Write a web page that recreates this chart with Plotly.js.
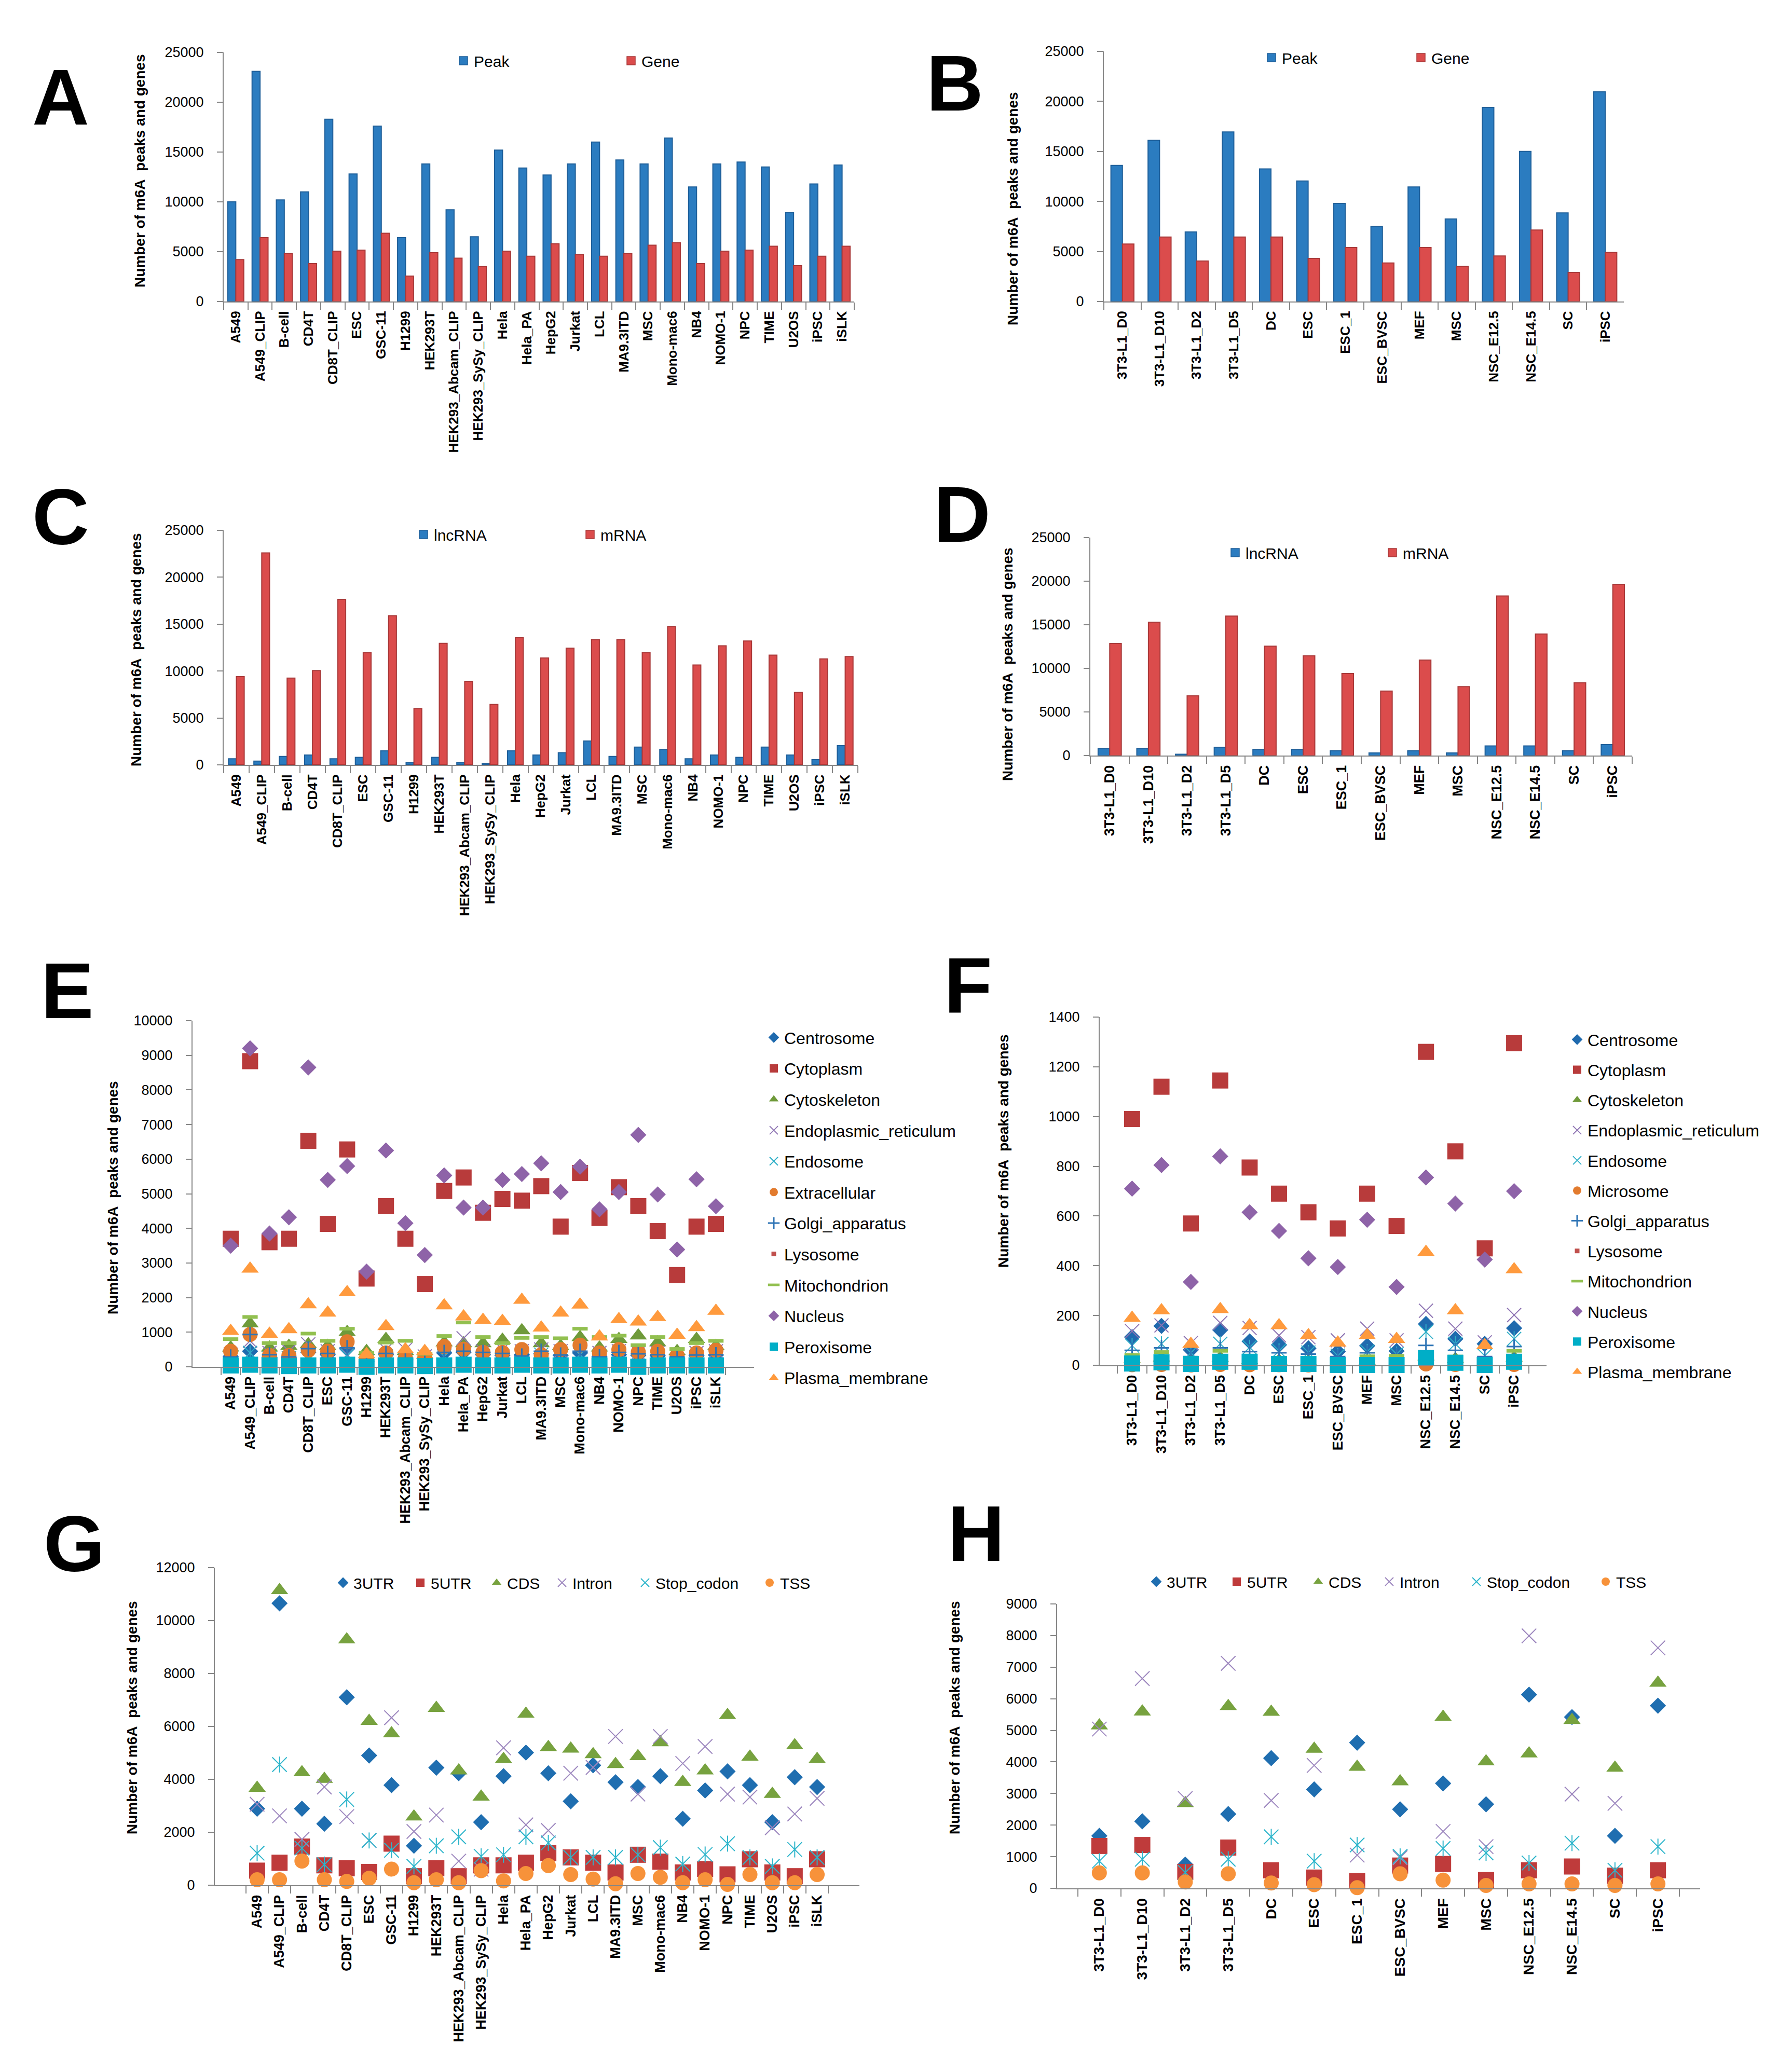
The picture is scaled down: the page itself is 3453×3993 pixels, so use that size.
<!DOCTYPE html>
<html><head><meta charset="utf-8">
<script src="https://cdn.plot.ly/plotly-3.0.1.min.js"></script>
<style>html,body{margin:0;padding:0;background:#fff}</style>
</head><body><div id="chart" style="width:3453px;height:3993px"></div>
<script>
// ---------------- DATA ----------------
const catsHuman = ['A549','A549_CLIP','B-cell','CD4T','CD8T_CLIP','ESC','GSC-11','H1299','HEK293T','HEK293_Abcam_CLIP','HEK293_SySy_CLIP','Hela','Hela_PA','HepG2','Jurkat','LCL','MA9.3ITD','MSC','Mono-mac6','NB4','NOMO-1','NPC','TIME','U2OS','iPSC','iSLK'];
const catsHumanC = ['A549','A549_CLIP','B-cell','CD4T','CD8T_CLIP','ESC','GSC-11','H1299','HEK293T','HEK293_Abcam_CLIP','HEK293_SySy_CLIP','Hela','HepG2','Jurkat','LCL','MA9.3ITD','MSC','Mono-mac6','NB4','NOMO-1','NPC','TIME','U2OS','iPSC','iSLK'];
const catsMouse = ['3T3-L1_D0','3T3-L1_D10','3T3-L1_D2','3T3-L1_D5','DC','ESC','ESC_1','ESC_BVSC','MEF','MSC','NSC_E12.5','NSC_E14.5','SC','iPSC'];

// Panel A
const aPeak = [10000,23100,10200,11000,18300,12800,17600,6400,13800,9200,6500,15200,13400,12700,13800,16000,14200,13800,16400,11500,13800,14000,13500,8900,11800,13700];
const aGene = [4200,6400,4800,3800,5050,5150,6850,2550,4900,4350,3500,5050,4550,5800,4700,4550,4800,5650,5900,3800,5050,5150,5550,3600,4550,5550];
// Panel B
const bPeak = [13600,16100,6950,16950,13250,12050,9800,7500,11450,8250,19400,15000,8850,20950];
const bGene = [5750,6450,4050,6450,6450,4300,5400,3850,5400,3500,4550,7150,2900,4900];
// Panel C
const cLnc = [650,400,900,1050,650,800,1500,250,800,250,150,1500,1050,1300,2550,900,1900,1650,650,1050,800,1900,1050,550,2050];
const cMrna = [9400,22600,9250,10050,17650,11950,15900,6000,12950,8900,6450,13550,11400,12450,13350,13350,11950,14750,10650,12700,13200,11700,7750,11300,11550];
// Panel D
const dLnc = [800,800,150,950,700,700,550,300,550,300,1100,1100,550,1250];
const dMrna = [12850,15300,6850,16000,12550,11450,9400,7400,10950,7900,18300,13950,8350,19650];

// Panel E (human, subcellular)
const eCentrosome = [300,450,280,260,420,350,520,150,350,200,150,400,420,350,330,350,380,330,400,300,350,330,320,250,320,340];
const eCytoplasm = [3700,8830,3600,3700,6530,4130,6280,2550,4640,3700,2390,5080,5470,4450,4850,4800,5220,4050,5600,4300,5190,4640,3920,2650,4050,4130];
const eCytoskeleton = [550,1250,550,600,650,600,1000,450,800,450,350,700,675,675,775,1050,675,600,850,550,800,900,700,450,800,600];
const eER = [350,750,400,450,650,450,350,200,500,500,300,300,825,450,500,450,500,450,350,400,450,400,400,300,400,450];
const eEndosome = [250,400,250,250,350,300,325,150,300,200,150,300,350,300,300,300,350,320,350,250,300,280,280,200,280,300];
const eExtracellular = [450,935,325,325,475,450,725,250,400,250,250,585,510,415,415,500,350,500,625,400,500,425,450,325,400,475];
const eGolgi = [285,935,350,285,525,385,550,150,385,250,200,415,450,415,385,310,450,340,450,290,415,375,350,290,340,350];
const eLysosome = [60,90,50,50,70,60,80,30,60,40,30,60,70,60,60,70,60,60,70,50,60,60,50,40,50,60];
const eMito = [800,1440,685,685,960,750,1100,410,700,750,375,890,1280,860,685,835,860,825,1100,860,900,625,860,515,685,750];
const eNucleus = [3500,9200,3850,4320,8650,5400,5800,2750,6250,4150,3230,5530,4600,4600,5400,5570,5880,5050,5780,4550,5050,6700,4980,3390,5420,4640];
const ePeroxisome = [40,60,40,20,40,40,60,0,40,40,20,40,60,40,40,60,40,40,60,40,60,0,40,40,40,40];
const ePlasma = [1030,2830,950,1080,1800,1560,2150,360,1170,500,450,1770,1450,1350,1320,1930,1130,1560,1790,870,1370,1300,1430,920,1140,1610];

// Panel F (mouse, subcellular)
const fCentrosome = [113,158,62,142,96,82,68,55,78,57,166,106,86,149];
const fCytoplasm = [990,1120,570,1145,795,690,615,550,690,560,1260,860,470,1295];
const fCytoskeleton = [25,30,15,30,20,18,15,12,18,12,35,25,12,30];
const fER = [137,160,89,170,150,120,113,100,147,100,219,147,92,202];
const fEndosome = [79,86,50,86,72,58,51,38,55,45,134,86,38,106];
const fMicrosome = [2,3,1,3,2,2,1,1,2,1,5,3,1,3];
const fGolgi = [60,70,35,70,55,50,45,35,50,40,80,60,35,75];
const fLysosome = [8,10,5,10,8,6,6,5,6,5,12,8,5,10];
const fMito = [41,53,30,58,38,30,25,25,36,38,50,35,25,58];
const fNucleus = [710,805,335,840,615,540,430,395,585,315,755,650,425,700];
const fPeroxisome = [7,12,5,14,14,5,5,1,1,1,29,10,1,14];
const fPlasma = [190,220,85,225,160,160,120,90,120,105,455,220,80,385];

// Panel G (human, gene region)
const g3UTR = [2890,10650,2890,2320,7100,4900,3780,1490,4440,4230,2380,4120,5010,4230,3170,4530,3890,3710,4120,2510,3580,4300,3780,2380,4080,3710];
const g5UTR = [550,850,1460,750,640,500,1570,340,640,340,750,750,850,1210,1050,850,480,1150,890,480,610,410,980,480,340,980];
const gCDS = [3670,11140,4260,4010,9280,6200,5730,2590,6690,4330,3340,4760,6470,5210,5150,4940,4570,4870,5390,3890,4330,6420,4850,3440,5280,4760];
const gIntron = [3060,2620,1730,3710,2590,1690,6330,2030,2650,910,600,5190,2280,2070,4230,4450,5620,3440,5620,4600,5240,3440,3330,2170,2690,3280];
const gStop = [1210,4560,1400,780,3240,1690,1320,710,1490,1830,1090,1150,1830,1600,1050,1050,1050,1150,1420,800,1160,1570,1050,710,1350,1050];
const gTSS = [205,205,910,205,140,260,610,95,205,95,550,164,440,740,400,230,55,440,300,95,205,30,400,95,95,400];

// Panel H (mouse, gene region)
const h3UTR = [1660,2120,750,2350,4120,3130,4610,2500,3320,2660,6130,5420,1660,5780];
const h5UTR = [1340,1370,520,1290,570,340,230,720,770,260,570,690,400,570];
const hCDS = [5150,5590,2690,5760,5580,4410,3840,3380,5420,4010,4260,5320,3810,6500];
const hIntron = [5040,6640,2840,7120,2780,3890,1050,970,1800,1320,7990,2980,2690,7610];
const hStop = [860,920,500,920,1630,860,1370,1010,1260,1120,800,1430,570,1320];
const hTSS = [490,490,200,460,170,115,20,460,260,90,140,140,90,140];

const yTitle = 'Number of m6A\u00a0 peaks and genes';

// ---------------- LAYOUT HELPERS ----------------
const W = 3453, H = 3993;
const FONT = 'Liberation Sans, Arial, Helvetica, sans-serif';
const AXC = '#868686';
const traces = [];
const layout = {
  width: W, height: H, margin: {l:0, r:0, t:0, b:0},
  paper_bgcolor: '#ffffff', plot_bgcolor: '#ffffff',
  font: {family: FONT, color: '#000'},
  showlegend: true, annotations: []
};
let legN = 0;
function newLegend(cfg){ legN++; const id = legN === 1 ? 'legend' : 'legend' + legN; layout[id] = cfg; return id; }
const SYM_OFF = 20, FIRST_OFF = 27;
function itemLegend(cx, cy, fs){
  return newLegend({x:(cx - SYM_OFF)/W, y:1 - cy/H, xanchor:'left', yanchor:'middle', orientation:'v',
    bgcolor:'rgba(0,0,0,0)', borderwidth:0, font:{family:FONT, size:fs, color:'#000'}, itemsizing:'trace'});
}
function colLegend(cx, cy, fs, gap){
  return newLegend({x:(cx - SYM_OFF)/W, y:1 - (cy - FIRST_OFF)/H, xanchor:'left', yanchor:'top', orientation:'v',
    bgcolor:'rgba(0,0,0,0)', borderwidth:0, font:{family:FONT, size:fs, color:'#000'}, itemsizing:'trace',
    traceorder:'grouped', tracegroupgap:gap});
}
function sfx(k){ return k === 1 ? '' : String(k); }
function addPanel(k, box, ymax, dtick, xfs){
  const [l, t, r, b] = box;
  layout['xaxis' + sfx(k)] = {domain:[l/W, r/W], anchor:'y' + sfx(k), type:'category',
    showline:true, linecolor:AXC, linewidth:2, ticks:'outside', tickson:'boundaries', ticklen:14, tickwidth:2, tickcolor:AXC,
    tickmode:'linear', tick0:0, dtick:1, tickangle:-90, ticklabelstandoff:6,
    tickfont:{family:FONT, size:xfs, color:'#000', weight:'bold'}, showgrid:false, zeroline:false, fixedrange:true};
  layout['yaxis' + sfx(k)] = {domain:[1 - b/H, 1 - t/H], anchor:'x' + sfx(k), range:[0, ymax], tick0:0, dtick:dtick,
    tickformat:'d', exponentformat:'none',
    showline:true, linecolor:AXC, linewidth:2, ticks:'outside', ticklen:11, tickwidth:2, tickcolor:AXC, ticklabelstandoff:20,
    tickfont:{family:FONT, size:27, color:'#000'}, showgrid:false, zeroline:false, fixedrange:true};
}
function letter(txt, lx, cy){
  layout.annotations.push({text:txt, xref:'paper', yref:'paper', x:lx/W, y:1 - cy/H, xanchor:'left', yanchor:'middle',
    showarrow:false, font:{family:FONT, size:152, color:'#000', weight:'bold'}});
}
function ytitle(cx, cy){
  layout.annotations.push({text:yTitle, xref:'paper', yref:'paper', x:cx/W, y:1 - cy/H, xanchor:'center', yanchor:'middle',
    textangle:-90, showarrow:false, font:{family:FONT, size:28, color:'#000', weight:'bold'}});
}
function bar(k, cats, vals, color, edge, width, offset){
  traces.push({type:'bar', x:cats, y:vals, xaxis:'x' + sfx(k), yaxis:'y' + sfx(k), width:width, offset:offset,
    marker:{color:color, line:{color:edge, width:2}}, showlegend:false, hoverinfo:'x+y'});
}
function legSquare(k, name, color, edge, legId){
  traces.push({type:'scatter', mode:'markers', x:[null], y:[null], xaxis:'x' + sfx(k), yaxis:'y' + sfx(k), name:name,
    marker:{symbol:'square', size:16, color:color, line:{color:edge, width:1.5}}, legend:legId, hoverinfo:'skip'});
}
function pts(k, cats, vals, name, sym, size, color, lw, legId, group, showleg){
  const open = /open/.test(sym);
  const m = {symbol:sym, size:size, color:color};
  m.line = open ? {color:color, width:lw} : {color:color, width:0};
  traces.push({type:'scatter', mode:'markers', x:cats, y:vals, xaxis:'x' + sfx(k), yaxis:'y' + sfx(k), name:name,
    marker:m, cliponaxis:false, legend:legId, legendgroup:group, showlegend:showleg !== false, hoverinfo:'name+x+y'});
}

const BLUE = '#2B7CC0', BLUE_E = '#1F5F99', RED = '#DB4C4C', RED_E = '#A83838';

// ---------------- PANELS A-D (bars) ----------------
addPanel(1, [431, 101, 1646, 581], 25000, 5000, 26);
bar(1, catsHuman, aPeak, BLUE, BLUE_E, 0.33, -0.33);
bar(1, catsHuman, aGene, RED, RED_E, 0.33, 0);
legSquare(1, 'Peak', BLUE, BLUE_E, itemLegend(893, 117, 30));
legSquare(1, 'Gene', RED, RED_E, itemLegend(1216, 117, 30));
letter('A', 60, 187); ytitle(269, 329);

addPanel(2, [2127, 99, 3129, 581], 25000, 5000, 26);
bar(2, catsMouse, bPeak, BLUE, BLUE_E, 0.31, -0.31);
bar(2, catsMouse, bGene, RED, RED_E, 0.31, 0);
legSquare(2, 'Peak', BLUE, BLUE_E, itemLegend(2450, 111, 30));
legSquare(2, 'Gene', RED, RED_E, itemLegend(2738, 111, 30));
letter('B', 1783, 160); ytitle(1952, 402);

addPanel(3, [431, 1022, 1653, 1474], 25000, 5000, 26);
bar(3, catsHumanC, cLnc, BLUE, BLUE_E, 0.31, -0.31);
bar(3, catsHumanC, cMrna, RED, RED_E, 0.31, 0);
legSquare(3, 'lncRNA', BLUE, BLUE_E, itemLegend(816, 1030, 30));
legSquare(3, 'mRNA', RED, RED_E, itemLegend(1137, 1030, 30));
letter('C', 60, 996); ytitle(263, 1252);

addPanel(4, [2101, 1036, 3145, 1456], 25000, 5000, 27);
bar(4, catsMouse, dLnc, BLUE, BLUE_E, 0.30, -0.30);
bar(4, catsMouse, dMrna, RED, RED_E, 0.30, 0);
legSquare(4, 'lncRNA', BLUE, BLUE_E, itemLegend(2380, 1065, 30));
legSquare(4, 'mRNA', RED, RED_E, itemLegend(2683, 1065, 30));
letter('D', 1797, 991); ytitle(1941, 1280);

// ---------------- PANELS E-F (subcellular scatter) ----------------
const C_CENT = '#1F6AAE', C_CYTO = '#B83B3B', C_SKEL = '#6F9A3A', C_ER = '#8E74B3', C_ENDO = '#2FAFC7',
      C_EXTRA = '#E27B2E', C_GOLGI = '#2E74B5', C_LYSO = '#C0504D', C_MITO = '#92C050', C_NUC = '#8E63A8',
      C_PEROX = '#00AEC7', C_PLASMA = '#FF9A3D';

function subcell(k, cats, d, names, legId){
  pts(k, cats, d[0], names[0], 'diamond', 24, C_CENT, 0, legId, k + names[0]);
  pts(k, cats, d[1], names[1], 'square', 31, C_CYTO, 0, legId, k + names[1]);
  pts(k, cats, d[2], names[2], 'triangle-up', 29, C_SKEL, 0, legId, k + names[2]);
  pts(k, cats, d[3], names[3], 'x-thin-open', 27, C_ER, 2, legId, k + names[3]);
  pts(k, cats, d[4], names[4], 'x-thin-open', 27, C_ENDO, 2, legId, k + names[4]);
  pts(k, cats, d[4], names[4], 'line-ns-open', 21, C_ENDO, 2, legId, k + names[4], false);
  pts(k, cats, d[5], names[5], 'circle', 29, C_EXTRA, 0, legId, k + names[5]);
  pts(k, cats, d[6], names[6], 'cross-thin-open', 21, C_GOLGI, 3, legId, k + names[6]);
  pts(k, cats, d[7], names[7], 'square', 9, C_LYSO, 0, legId, k + names[7]);
  pts(k, cats, d[8], names[8], 'line-ew-open', 21, C_MITO, 7, legId, k + names[8]);
  pts(k, cats, d[9], names[9], 'diamond', 24, C_NUC, 0, legId, k + names[9]);
  pts(k, cats, d[10], names[10], 'square', 31, C_PEROX, 0, legId, k + names[10]);
  pts(k, cats, d[11], names[11], 'triangle-up', 29, C_PLASMA, 0, legId, k + names[11]);
}

addPanel(5, [371, 1967, 1453, 2634], 10000, 1000, 27);
subcell(5, catsHuman,
  [eCentrosome, eCytoplasm, eCytoskeleton, eER, eEndosome, eExtracellular, eGolgi, eLysosome, eMito, eNucleus, ePeroxisome, ePlasma],
  ['Centrosome','Cytoplasm','Cytoskeleton','Endoplasmic_reticulum','Endosome','Extracellular','Golgi_apparatus','Lysosome','Mitochondrion','Nucleus','Peroxisome','Plasma_membrane'],
  colLegend(1491, 1999, 32, 15));
letter('E', 77, 1909); ytitle(217, 2308);

addPanel(6, [2119, 1960, 2980, 2631], 1400, 200, 27);
subcell(6, catsMouse,
  [fCentrosome, fCytoplasm, fCytoskeleton, fER, fEndosome, fMicrosome, fGolgi, fLysosome, fMito, fNucleus, fPeroxisome, fPlasma],
  ['Centrosome','Cytoplasm','Cytoskeleton','Endoplasmic_reticulum','Endosome','Microsome','Golgi_apparatus','Lysosome','Mitochondrion','Nucleus','Peroxisome','Plasma_membrane'],
  colLegend(3039, 2003, 32, 13.6));
letter('F', 1817, 1898); ytitle(1933, 2218);

// ---------------- PANELS G-H (gene region scatter) ----------------
const C_3 = '#1F6EB0', C_5 = '#BF3B3B', C_CDS = '#77A23F', C_INT = '#9C86BE', C_STOP = '#2CB5CB', C_TSS = '#F7923A';
function region(k, cats, d, lx, ly){
  const names = ['3UTR','5UTR','CDS','Intron','Stop_codon','TSS'];
  pts(k, cats, d[0], names[0], 'diamond', 24, C_3, 0, itemLegend(lx[0], ly, 30), k + 'a');
  pts(k, cats, d[1], names[1], 'square', 31, C_5, 0, itemLegend(lx[1], ly, 30), k + 'b');
  pts(k, cats, d[2], names[2], 'triangle-up', 29, C_CDS, 0, itemLegend(lx[2], ly, 30), k + 'c');
  pts(k, cats, d[3], names[3], 'x-thin-open', 28, C_INT, 2, itemLegend(lx[3], ly, 30), k + 'd');
  const sl = itemLegend(lx[4], ly, 30);
  pts(k, cats, d[4], names[4], 'x-thin-open', 28, C_STOP, 2, sl, k + 'e');
  pts(k, cats, d[4], names[4], 'line-ns-open', 22, C_STOP, 2, sl, k + 'e', false);
  pts(k, cats, d[5], names[5], 'circle', 29, C_TSS, 0, itemLegend(lx[5], ly, 30), k + 'f');
}
addPanel(7, [414, 3021, 1656, 3633], 12000, 2000, 27);
region(7, catsHuman, [g3UTR, g5UTR, gCDS, gIntron, gStop, gTSS], [661, 810, 957, 1083, 1243, 1483], 3050);
letter('G', 82, 2975); ytitle(254, 3310);

addPanel(8, [2037, 3091, 3276, 3639], 9000, 1000, 28);
region(8, catsMouse, [h3UTR, h5UTR, hCDS, hIntron, hStop, hTSS], [2228, 2383, 2540, 2677, 2845, 3094], 3048);
letter('H', 1824, 2955); ytitle(1839, 3310);

layout.barmode = 'overlay';
Plotly.newPlot('chart', traces, layout, {displayModeBar:false, staticPlot:true});
</script>
</body></html>
